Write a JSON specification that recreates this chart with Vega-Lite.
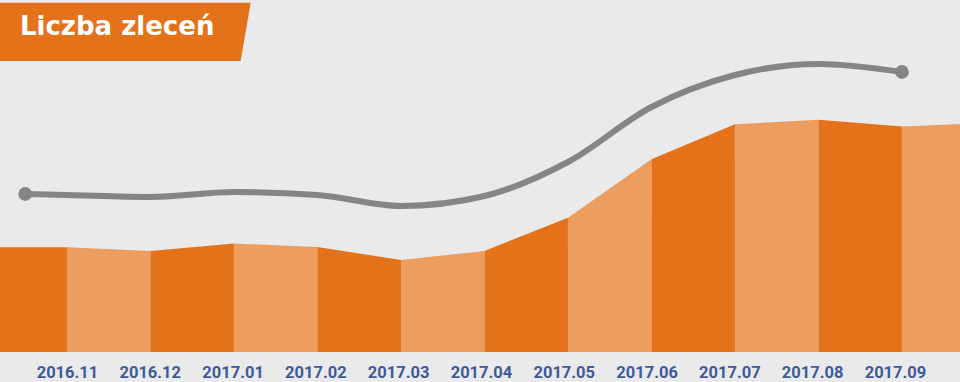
{
  "$schema": "https://vega.github.io/schema/vega-lite/v6.json",
  "width": 960,
  "height": 382,
  "autosize": {"type": "none"},
  "padding": 0,
  "background": "#EAEAEA",
  "config": {"view": {"stroke": null}},
  "datasets": {
    "orders": [
      {"seg": 0, "shade": "d", "i": -0.802, "v": 104.7},
      {"seg": 0, "shade": "d", "i": 0, "v": 104.7},
      {"seg": 1, "shade": "l", "i": 0, "v": 104.7},
      {"seg": 1, "shade": "l", "i": 1, "v": 101},
      {"seg": 2, "shade": "d", "i": 1, "v": 101},
      {"seg": 2, "shade": "d", "i": 2, "v": 108.5},
      {"seg": 3, "shade": "l", "i": 2, "v": 108.5},
      {"seg": 3, "shade": "l", "i": 3, "v": 105},
      {"seg": 4, "shade": "d", "i": 3, "v": 105},
      {"seg": 4, "shade": "d", "i": 4, "v": 92},
      {"seg": 5, "shade": "l", "i": 4, "v": 92},
      {"seg": 5, "shade": "l", "i": 5, "v": 101},
      {"seg": 6, "shade": "d", "i": 5, "v": 101},
      {"seg": 6, "shade": "d", "i": 6, "v": 134.3},
      {"seg": 7, "shade": "l", "i": 6, "v": 134.3},
      {"seg": 7, "shade": "l", "i": 7, "v": 192.7},
      {"seg": 8, "shade": "d", "i": 7, "v": 192.7},
      {"seg": 8, "shade": "d", "i": 8, "v": 227.7},
      {"seg": 9, "shade": "l", "i": 8, "v": 227.7},
      {"seg": 9, "shade": "l", "i": 9, "v": 232.3},
      {"seg": 10, "shade": "d", "i": 9, "v": 232.3},
      {"seg": 10, "shade": "d", "i": 10, "v": 225.5},
      {"seg": 11, "shade": "l", "i": 10, "v": 225.5},
      {"seg": 11, "shade": "l", "i": 10.695, "v": 228}
    ],
    "trend": [
      {"i": -0.5, "v": 158},
      {"i": 0, "v": 157},
      {"i": 1, "v": 155},
      {"i": 2, "v": 160},
      {"i": 3, "v": 157},
      {"i": 4, "v": 146},
      {"i": 5, "v": 156},
      {"i": 6, "v": 190},
      {"i": 7, "v": 245},
      {"i": 8, "v": 277},
      {"i": 9, "v": 288},
      {"i": 10, "v": 280}
    ],
    "banner": [
      {"i": -0.802, "top": 349.3, "bottom": 291},
      {"i": 2.08, "top": 349.3, "bottom": 291},
      {"i": 2.2, "top": 349.3, "bottom": 349.3}
    ]
  },
  "layer": [
    {
      "data": {"name": "orders"},
      "mark": {"type": "area", "interpolate": "linear"},
      "encoding": {
        "x": {
          "field": "i", "type": "quantitative",
          "scale": {"domain": [-0.802, 10.695], "nice": false, "zero": false},
          "axis": {
            "values": [0, 0.9916, 1.9832, 2.9749, 3.9665, 4.9581, 5.9497, 6.9413, 7.9329, 8.9246, 9.9162],
            "labelExpr": "['2016.11','2016.12','2017.01','2017.02','2017.03','2017.04','2017.05','2017.06','2017.07','2017.08','2017.09'][round(datum.value)]",
            "title": null, "domain": false, "ticks": false, "tickSize": 0, "grid": false,
            "offset": -30, "labelPadding": 12,
            "labelFont": "Roboto", "labelFontWeight": "bold", "labelFontSize": 16.5,
            "labelColor": "#3E5A9A", "labelAlign": "center",
            "labelBound": false, "labelOverlap": false, "labelFlush": false
          }
        },
        "y": {
          "field": "v", "type": "quantitative", "stack": null,
          "scale": {"domain": [-30, 352], "nice": false, "zero": false},
          "axis": null
        },
        "y2": {"datum": 0},
        "detail": {"field": "seg"},
        "color": {
          "field": "shade", "type": "nominal",
          "scale": {"domain": ["d", "l"], "range": ["#E3721B", "#EC9D60"]},
          "legend": null
        }
      }
    },
    {
      "data": {"name": "trend"},
      "mark": {"type": "line", "interpolate": "monotone", "strokeWidth": 6, "color": "#858585", "strokeCap": "round"},
      "encoding": {
        "x": {"field": "i", "type": "quantitative"},
        "y": {"field": "v", "type": "quantitative"}
      }
    },
    {
      "data": {"name": "trend"},
      "transform": [{"filter": "datum.i == -0.5 || datum.i == 10"}],
      "mark": {"type": "circle", "size": 190, "color": "#858585", "opacity": 1},
      "encoding": {
        "x": {"field": "i", "type": "quantitative"},
        "y": {"field": "v", "type": "quantitative"}
      }
    },
    {
      "data": {"name": "banner"},
      "mark": {"type": "area", "color": "#E3721B"},
      "encoding": {
        "x": {"field": "i", "type": "quantitative"},
        "y": {"field": "top", "type": "quantitative"},
        "y2": {"field": "bottom"}
      }
    },
    {
      "data": {"values": [{"t": "Liczba zleceń"}]},
      "mark": {"type": "text", "align": "left", "baseline": "alphabetic", "font": "DejaVu Sans", "fontWeight": "bold", "fontSize": 26, "color": "#FFFFFF"},
      "encoding": {
        "x": {"datum": -0.563},
        "y": {"datum": 317},
        "text": {"field": "t"}
      }
    }
  ]
}
